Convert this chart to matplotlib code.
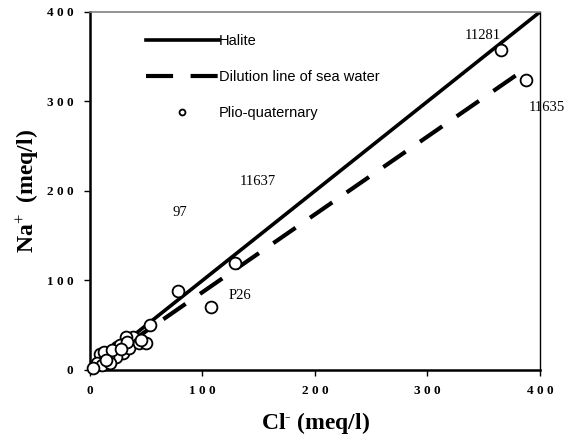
import numpy as np
import matplotlib
matplotlib.use('Agg')
import matplotlib.pyplot as plt
from matplotlib.ticker import FuncFormatter

plt.rcParams['mathtext.fontset'] = 'custom'
plt.rcParams['mathtext.rm'] = 'Liberation Serif'
plt.rcParams['mathtext.it'] = 'Liberation Serif'

# Plio-quaternary samples (Cl-, Na+) in meq/l
cl = [365, 388, 129, 78, 108, 53, 38.5, 31.7, 23.7, 29.6, 34.9, 43.9, 49.4,
      23.1, 16.3, 8.9, 12.4, 5.9, 10.4, 17.8, 26.7, 3, 20, 33, 45, 14, 28]
na = [357, 324, 120, 88, 70, 50, 37, 37, 26, 19, 25, 30, 30,
      14, 14, 17.5, 20.5, 7.4, 5.6, 7.4, 28, 2, 22, 31, 34, 11, 23]

# reference lines
halite_x = [0, 400]
halite_y = [0, 400]
sea_x = [0, 390]
sea_y = [0, 339]

# labelled samples
lab_text = ['11281', '11635', '11637', '97', 'P26']
lab_x = [349, 406, 149, 80, 133]
lab_y = [374, 293, 210, 176, 83]

fig = plt.figure(figsize=(5.66, 4.42), dpi=100)
ax = fig.add_axes([0.159, 0.163, 0.795, 0.81])

ax.plot(halite_x, halite_y, color='black', lw=2.6, label='Halite', zorder=2)
ax.plot(sea_x, sea_y, color='black', lw=3.0, dashes=(6.5, 4.2),
        label='Dilution line of sea water', zorder=2)
ax.plot(cl, na, 'o', ms=8.5, mfc='white', mec='black', mew=1.3,
        label='Plio-quaternary', zorder=3, clip_on=False)

for t, x, y in zip(lab_text, lab_x, lab_y):
    ax.text(x, y, t, ha='center', va='center', fontsize=10.5,
            family='Liberation Serif', clip_on=False)

ax.set_xlim(0, 400)
ax.set_ylim(0, 400)
ax.set_xticks(np.arange(0, 401, 100))
ax.set_yticks(np.arange(0, 401, 100))

fmt = FuncFormatter(lambda v, p: ' '.join(str(int(v))))
ax.xaxis.set_major_formatter(fmt)
ax.yaxis.set_major_formatter(fmt)
for lbl in ax.get_xticklabels() + ax.get_yticklabels():
    lbl.set_family(['Liberation Serif', 'DejaVu Serif'])
    lbl.set_fontweight('bold')
    lbl.set_fontsize(9.5)
ax.tick_params(direction='out', length=4, width=1, pad=7)
ax.tick_params(axis='y', pad=8)

ax.spines['left'].set_linewidth(1.8)
ax.spines['bottom'].set_linewidth(1.8)
ax.spines['top'].set_color('gray')
ax.spines['top'].set_linewidth(1.2)
ax.spines['right'].set_linewidth(1.0)

ax.set_xlabel(r'Cl$^{\text{-}}$ (meq/l)', family='Liberation Serif',
              fontweight='bold', fontsize=17, labelpad=9)
ax.set_ylabel('Na$^{+}$  (meq/l)', family='Liberation Serif', fontweight='bold',
              fontsize=17, labelpad=4)

leg = ax.legend(loc='upper left', bbox_to_anchor=(0.095, 0.975), frameon=False,
                handlelength=5.0, handletextpad=0.0, labelspacing=1.5,
                markerscale=0.5, prop={'family': 'Liberation Sans', 'size': 10.5})

fig.savefig('out.png', dpi=100)
